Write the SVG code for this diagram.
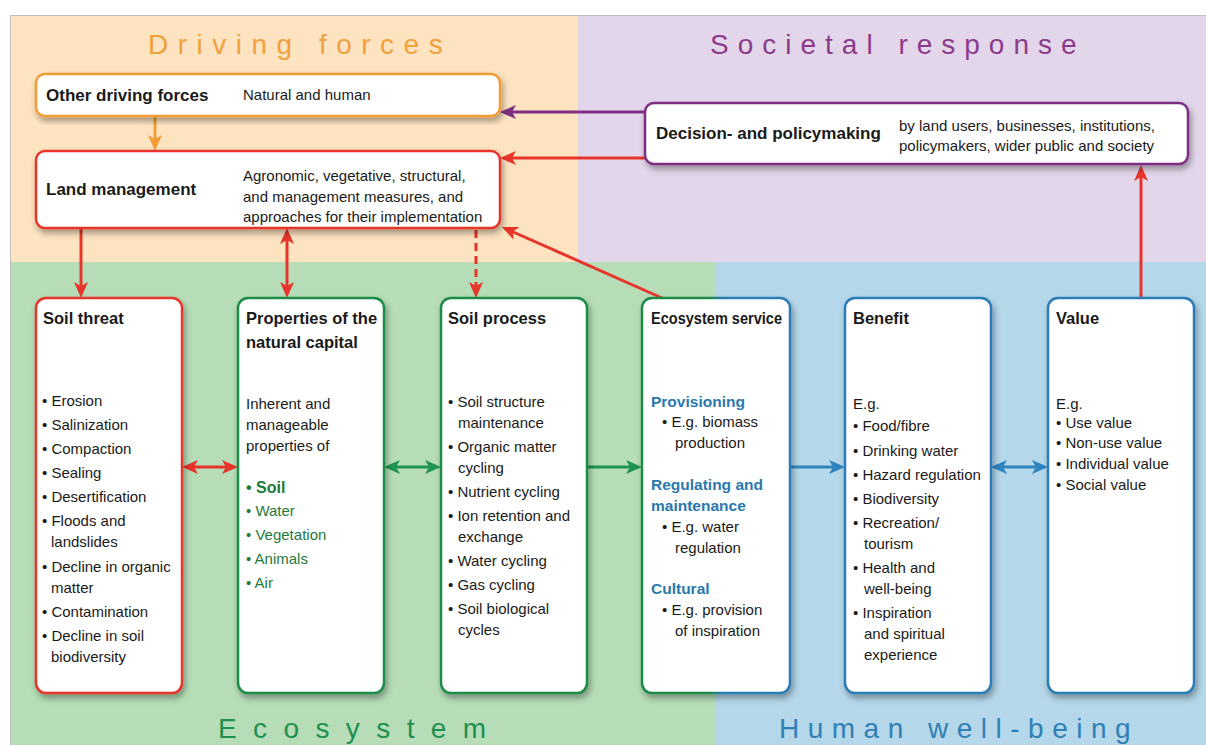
<svg xmlns="http://www.w3.org/2000/svg" width="1206" height="745" viewBox="0 0 1206 745">
<style>
text{font-family:"Liberation Sans",Arial,sans-serif;fill:#1a1a1a}
.zone{font-size:28px}
.tb{font-size:17px;font-weight:bold}
.t{font-size:15px}
.hd{font-size:16.5px;font-weight:bold}
.b{font-size:15px}
.box{fill:#fff;stroke-width:2.5;filter:url(#sh)}
.gl{fill:#1f7a3a}
.sub{fill:#2a78ad;font-weight:bold;font-size:15.5px}
</style>
<defs>
<filter id="sh" x="-10%" y="-10%" width="130%" height="130%">
<feDropShadow dx="2" dy="4" stdDeviation="3" flood-color="#000" flood-opacity="0.35"/>
</filter>
<marker id="mr" markerUnits="userSpaceOnUse" markerWidth="16" markerHeight="14" refX="6" refY="7" orient="auto-start-reverse"><path d="M0,0 L16,7 L0,14 L4,7 Z" fill="#e8352b"/></marker>
<marker id="mo" markerUnits="userSpaceOnUse" markerWidth="16" markerHeight="14" refX="6" refY="7" orient="auto-start-reverse"><path d="M0,0 L16,7 L0,14 L4,7 Z" fill="#f39c34"/></marker>
<marker id="mp" markerUnits="userSpaceOnUse" markerWidth="16" markerHeight="14" refX="6" refY="7" orient="auto-start-reverse"><path d="M0,0 L16,7 L0,14 L4,7 Z" fill="#7e2f82"/></marker>
<marker id="mg" markerUnits="userSpaceOnUse" markerWidth="16" markerHeight="14" refX="6" refY="7" orient="auto-start-reverse"><path d="M0,0 L16,7 L0,14 L4,7 Z" fill="#1f9450"/></marker>
<marker id="mb" markerUnits="userSpaceOnUse" markerWidth="16" markerHeight="14" refX="6" refY="7" orient="auto-start-reverse"><path d="M0,0 L16,7 L0,14 L4,7 Z" fill="#2e84bf"/></marker>
<linearGradient id="gb" gradientUnits="userSpaceOnUse" x1="642" y1="0" x2="790" y2="0">
<stop offset="0" stop-color="#1a8c48"/><stop offset="0.45" stop-color="#1a8c48"/><stop offset="0.55" stop-color="#2c7bb6"/><stop offset="1" stop-color="#2c7bb6"/>
</linearGradient>
</defs>

<g id="background">
<rect x="0" y="0" width="1206" height="745" fill="#fff"/>
<rect x="10" y="15" width="568" height="247" fill="#fde3c0"/>
<rect x="578" y="15" width="628" height="247" fill="#e3d6ea"/>
<rect x="10" y="262" width="706" height="483" fill="#b6ddb7"/>
<rect x="716" y="262" width="490" height="483" fill="#b4d7e9"/>
<line x1="10" y1="15.5" x2="1206" y2="15.5" stroke="#bdbdbd" stroke-width="1"/>
<line x1="10.5" y1="15" x2="10.5" y2="745" stroke="#bdbdbd" stroke-width="1"/>
<text class="zone" x="148" y="54" style="fill:#f0a03c;letter-spacing:9.5px">Driving forces</text>
<text class="zone" x="710" y="54" style="fill:#8b3b8b;letter-spacing:9px">Societal response</text>
<text class="zone" x="218" y="738" style="fill:#1e9050;letter-spacing:16.4px">Ecosystem</text>
<text class="zone" x="779" y="738" style="fill:#3180b5;letter-spacing:8.5px">Human well-being</text>
</g>

<g id="connectors" fill="none" stroke-width="3">
<line x1="155" y1="116" x2="155" y2="141" stroke="#f39c34" marker-end="url(#mo)"/>
<line x1="645" y1="112" x2="510" y2="112" stroke="#7e2f82" marker-end="url(#mp)"/>
<line x1="645" y1="158" x2="510" y2="158" stroke="#e8352b" marker-end="url(#mr)"/>
<line x1="662" y1="298" x2="511" y2="231" stroke="#e8352b" marker-end="url(#mr)"/>
<line x1="1141" y1="298" x2="1141" y2="175" stroke="#e8352b" marker-end="url(#mr)"/>
<line x1="81" y1="228" x2="81" y2="288" stroke="#e8352b" marker-end="url(#mr)"/>
<line x1="287" y1="238" x2="287" y2="288" stroke="#e8352b" marker-start="url(#mr)" marker-end="url(#mr)"/>
<line x1="476" y1="230" x2="476" y2="288" stroke="#e8352b" stroke-dasharray="8,5" marker-end="url(#mr)"/>
<line x1="192" y1="467" x2="228" y2="467" stroke="#e8352b" marker-start="url(#mr)" marker-end="url(#mr)"/>
<line x1="394" y1="467" x2="431" y2="467" stroke="#1f9450" marker-start="url(#mg)" marker-end="url(#mg)"/>
<line x1="587" y1="467" x2="632" y2="467" stroke="#1f9450" marker-end="url(#mg)"/>
<line x1="790" y1="467" x2="835" y2="467" stroke="#2e84bf" marker-end="url(#mb)"/>
<line x1="1001" y1="467" x2="1038" y2="467" stroke="#2e84bf" marker-start="url(#mb)" marker-end="url(#mb)"/>
</g>

<g id="other-driving-forces">
<rect class="box" x="36" y="74" width="464" height="42" rx="9" stroke="#f39c34"/>
<text class="tb" x="46" y="101">Other driving forces</text>
<text class="t" x="243" y="100">Natural and human</text>
</g>

<g id="land-management">
<rect class="box" x="36" y="151" width="464" height="77" rx="9" stroke="#e8352b"/>
<text class="tb" x="46" y="195">Land management</text>
<text class="t" x="243" y="181">Agronomic, vegetative, structural,</text>
<text class="t" x="243" y="202">and management measures, and</text>
<text class="t" x="243" y="222">approaches for their implementation</text>
</g>

<g id="decision-policymaking">
<rect class="box" x="645" y="103" width="543" height="61" rx="9" stroke="#7e2f82"/>
<text class="tb" x="656" y="139">Decision- and policymaking</text>
<text class="t" x="899" y="131">by land users, businesses, institutions,</text>
<text class="t" x="899" y="151">policymakers, wider public and society</text>
</g>

<g id="soil-threat">
<rect class="box" x="36" y="298" width="146" height="395" rx="10" stroke="#e8352b"/>
<text class="hd" x="43" y="324">Soil threat</text>
<text class="b"><tspan x="42" y="406">• Erosion</tspan><tspan x="42" y="430">• Salinization</tspan><tspan x="42" y="454">• Compaction</tspan><tspan x="42" y="478">• Sealing</tspan><tspan x="42" y="502">• Desertification</tspan><tspan x="42" y="526">• Floods and</tspan><tspan x="51" y="547">landslides</tspan><tspan x="42" y="572">• Decline in organic</tspan><tspan x="51" y="593">matter</tspan><tspan x="42" y="617">• Contamination</tspan><tspan x="42" y="641">• Decline in soil</tspan><tspan x="51" y="662">biodiversity</tspan></text>
</g>

<g id="natural-capital">
<rect class="box" x="238" y="298" width="146" height="395" rx="10" stroke="#1a8c48"/>
<text class="hd"><tspan x="246" y="324">Properties of the</tspan><tspan x="246" y="348">natural capital</tspan></text>
<text class="b"><tspan x="246" y="409">Inherent and</tspan><tspan x="246" y="430">manageable</tspan><tspan x="246" y="451">properties of</tspan></text>
<text class="b gl"><tspan x="246" y="493" style="font-weight:bold;font-size:16px;fill:#1a7a3a">• Soil</tspan><tspan x="246" y="516">• Water</tspan><tspan x="246" y="540">• Vegetation</tspan><tspan x="246" y="564">• Animals</tspan><tspan x="246" y="588">• Air</tspan></text>
</g>

<g id="soil-process">
<rect class="box" x="441" y="298" width="146" height="395" rx="10" stroke="#1a8c48"/>
<text class="hd" x="448" y="324">Soil process</text>
<text class="b"><tspan x="448" y="407">• Soil structure</tspan><tspan x="458" y="428">maintenance</tspan><tspan x="448" y="452">• Organic matter</tspan><tspan x="458" y="473">cycling</tspan><tspan x="448" y="497">• Nutrient cycling</tspan><tspan x="448" y="521">• Ion retention and</tspan><tspan x="458" y="542">exchange</tspan><tspan x="448" y="566">• Water cycling</tspan><tspan x="448" y="590">• Gas cycling</tspan><tspan x="448" y="614">• Soil biological</tspan><tspan x="458" y="635">cycles</tspan></text>
</g>

<g id="ecosystem-service">
<rect class="box" x="642" y="298" width="148" height="395" rx="10" stroke="url(#gb)"/>
<text class="hd" x="651" y="324" textLength="131" lengthAdjust="spacingAndGlyphs">Ecosystem service</text>
<text class="sub"><tspan x="651" y="407">Provisioning</tspan><tspan x="651" y="490">Regulating and</tspan><tspan x="651" y="511">maintenance</tspan><tspan x="651" y="594">Cultural</tspan></text>
<text class="b"><tspan x="662" y="427">• E.g. biomass</tspan><tspan x="675" y="448">production</tspan><tspan x="662" y="532">• E.g. water</tspan><tspan x="675" y="553">regulation</tspan><tspan x="662" y="615">• E.g. provision</tspan><tspan x="675" y="636">of inspiration</tspan></text>
</g>

<g id="benefit">
<rect class="box" x="845" y="298" width="146" height="395" rx="10" stroke="#2c7bb6"/>
<text class="hd" x="853" y="324">Benefit</text>
<text class="b"><tspan x="853" y="409">E.g.</tspan><tspan x="853" y="431">• Food/fibre</tspan><tspan x="853" y="456">• Drinking water</tspan><tspan x="853" y="480">• Hazard regulation</tspan><tspan x="853" y="504">• Biodiversity</tspan><tspan x="853" y="528">• Recreation/</tspan><tspan x="864" y="549">tourism</tspan><tspan x="853" y="573">• Health and</tspan><tspan x="864" y="594">well-being</tspan><tspan x="853" y="618">• Inspiration</tspan><tspan x="864" y="639">and spiritual</tspan><tspan x="864" y="660">experience</tspan></text>
</g>

<g id="value">
<rect class="box" x="1048" y="298" width="146" height="395" rx="10" stroke="#2c7bb6"/>
<text class="hd" x="1056" y="324">Value</text>
<text class="b"><tspan x="1056" y="409">E.g.</tspan><tspan x="1056" y="428">• Use value</tspan><tspan x="1056" y="448">• Non-use value</tspan><tspan x="1056" y="469">• Individual value</tspan><tspan x="1056" y="490">• Social value</tspan></text>
</g>
</svg>
